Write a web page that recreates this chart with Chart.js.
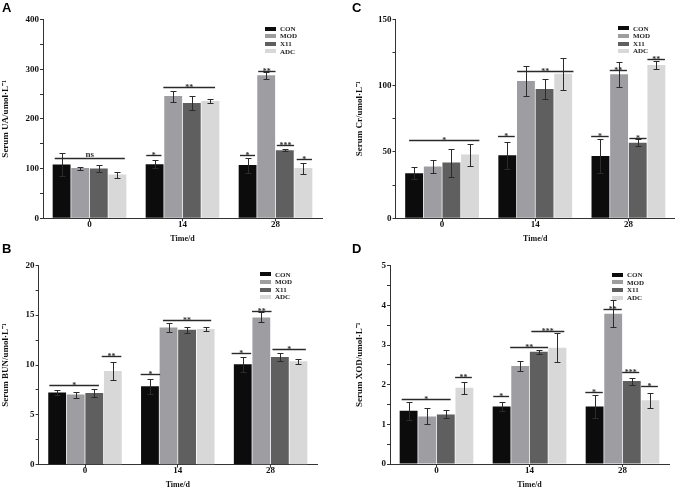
<!DOCTYPE html>
<html>
<head>
<meta charset="utf-8">
<script src="https://cdn.jsdelivr.net/npm/chart.js@4.4.1/dist/chart.umd.min.js"></script>
<style>
  html, body { margin: 0; padding: 0; background: #fff; }
  #wrap { position: relative; width: 675px; height: 488px; overflow: hidden; }
  .panel { position: absolute; }
  .tag { position: absolute; font: bold 13px "Liberation Sans", Arial, sans-serif; line-height: 13px; color: #000; }
</style>
</head>
<body>
<div id="wrap">
  <div class="panel" style="left:0;top:0;width:335px;height:244px"><canvas id="chA"></canvas></div>
  <div class="panel" style="left:335px;top:0;width:340px;height:244px"><canvas id="chC"></canvas></div>
  <div class="panel" style="left:0;top:244px;width:335px;height:246px"><canvas id="chB"></canvas></div>
  <div class="panel" style="left:335px;top:244px;width:340px;height:246px"><canvas id="chD"></canvas></div>
  <div class="tag" style="left:2px;top:1px">A</div>
  <div class="tag" style="left:352px;top:1px">C</div>
  <div class="tag" style="left:2px;top:242px">B</div>
  <div class="tag" style="left:352px;top:242px">D</div>
</div>
<script>
// groups / time points
const DAYS = ["0", "14", "28"];
const GROUPS = ["CON", "MOD", "X11", "ADC"];
const GROUP_COLORS = ["#0c0c0c", "#9e9ea2", "#5f5f5f", "#d8d8d8"];

// A - serum UA (rows = CON, MOD, X11, ADC)
const UA_MEAN = [[108, 109, 107], [101, 246, 288], [100, 232, 137], [88, 236, 101]];
const UA_SD   = [[23, 8, 15], [3, 11, 7], [7, 15, 1.5], [6, 5, 11]];
// [day index, from bar, to bar, y value, label]
const UA_SIG = [
  [0, 0.13, 3.9, 121, "ns"],
  [1, 0.05, 0.87, 128, "*"], [1, 0.97, 3.75, 264, "**"],
  [2, 0.09, 0.9, 128, "*"], [2, 1.07, 2.0, 297, "**"], [2, 2.07, 3.0, 148, "***"], [2, 3.14, 3.96, 120, "*"]
];

// C - serum Cr
const CR_MEAN = [[34, 47.5, 47], [39, 103.5, 108.5], [42, 97.5, 57], [48, 109, 115.5]];
const CR_SD   = [[4.5, 10, 12.8], [4.7, 11.5, 9.3], [10.5, 7.7, 2.5], [8.3, 12, 3]];
const CR_SIG = [
  [0, 0.23, 4.0, 59, "*"],
  [1, 0.0, 0.9, 62, "*"], [1, 1.03, 4.05, 111, "**"],
  [2, 0.0, 0.94, 62, "*"], [2, 1.0, 1.92, 112, "**"], [2, 2.05, 2.97, 60.7, "*"], [2, 3.02, 3.96, 119.8, "**"]
];

// B - serum BUN
const BUN_MEAN = [[7.23, 7.87, 10.07], [7.03, 13.77, 14.77], [7.2, 13.53, 10.8], [9.4, 13.6, 10.37]];
const BUN_SD   = [[0.23, 0.77, 0.77], [0.3, 0.47, 0.5], [0.4, 0.33, 0.37], [0.93, 0.2, 0.23]];
const BUN_SIG = [
  [0, 0.08, 2.75, 7.97, "*"], [0, 2.9, 3.96, 10.87, "**"],
  [1, 0.0, 1.05, 9.13, "*"], [1, 1.2, 3.8, 14.47, "**"],
  [2, -0.1, 0.95, 11.17, "*"], [2, 1.0, 2.05, 15.43, "**"], [2, 2.1, 3.9, 11.6, "*"]
];

// D - serum XOD
const XOD_MEAN = [[1.34, 1.45, 1.45], [1.2, 2.47, 3.79], [1.25, 2.83, 2.09], [1.92, 2.93, 1.61]];
const XOD_SD   = [[0.22, 0.11, 0.29], [0.2, 0.12, 0.34], [0.1, 0.05, 0.09], [0.16, 0.37, 0.19]];
const XOD_SIG = [
  [0, 0.13, 2.76, 1.65, "*"], [0, 3.0, 3.9, 2.19, "**"],
  [1, 0.05, 0.9, 1.71, "*"], [1, 0.96, 3.0, 2.95, "**"], [1, 2.1, 3.87, 3.35, "***"],
  [2, 0.0, 0.94, 1.82, "*"], [2, 0.98, 1.96, 3.9, "**"], [2, 1.98, 2.9, 2.32, "***"], [2, 3.0, 3.9, 1.97, "*"]
];

const SERIF = "'Liberation Serif', 'Times New Roman', serif";

// mean ± SD whiskers
const errorBars = {
  id: "errorBars",
  afterDatasetsDraw(chart) {
    const { ctx } = chart;
    const y = chart.scales.y;
    ctx.save();
    ctx.strokeStyle = "#2b2b2b";
    ctx.lineWidth = 1;
    chart.data.datasets.forEach((ds, i) => {
      chart.getDatasetMeta(i).data.forEach((bar, j) => {
        const v = ds.data[j], e = ds.sd[j];
        const top = Math.round(y.getPixelForValue(v + e)) + 0.5;
        const bot = Math.round(y.getPixelForValue(v - e)) + 0.5;
        const x = Math.round(bar.x) + 0.5;
        ctx.beginPath();
        ctx.moveTo(x, top); ctx.lineTo(x, bot);
        ctx.moveTo(x - 3, top); ctx.lineTo(x + 3, top);
        ctx.moveTo(x - 3, bot); ctx.lineTo(x + 3, bot);
        ctx.stroke();
      });
    });
    ctx.restore();
  }
};

// significance bars with stars
const sigMarks = {
  id: "sigMarks",
  afterDatasetsDraw(chart, _args, opts) {
    const { ctx } = chart;
    const y = chart.scales.y;
    const m0 = chart.getDatasetMeta(0), m1 = chart.getDatasetMeta(1);
    ctx.save();
    ctx.strokeStyle = "#2a2a2a";
    ctx.lineWidth = 1.4;
    ctx.fillStyle = "#333";
    ctx.textAlign = "center";
    ctx.textBaseline = "alphabetic";
    for (const [g, a, b, val, txt] of (opts.items || [])) {
      const pitch = m1.data[g].x - m0.data[g].x;
      const left = m0.data[g].x - pitch / 2;
      const x0 = left + a * pitch, x1 = left + b * pitch;
      const py = Math.round(y.getPixelForValue(val)) + 0.5;
      ctx.beginPath();
      ctx.moveTo(x0, py); ctx.lineTo(x1, py);
      ctx.stroke();
      if (txt === "ns") {
        ctx.font = `bold 9px ${SERIF}`;
        ctx.fillText(txt, (x0 + x1) / 2, py - 2);
      } else {
        ctx.font = `bold 8px ${SERIF}`;
        ctx.fillText(txt, (x0 + x1) / 2, py + 2.5);
      }
    }
    ctx.restore();
  }
};

// small legend inside the plot, top right
const innerLegend = {
  id: "innerLegend",
  afterDraw(chart, _args, opts) {
    const { ctx, chartArea } = chart;
    const x = chartArea.right - opts.right;
    const y0 = chartArea.top + opts.top;
    ctx.save();
    ctx.font = `bold 7px ${SERIF}`;
    ctx.textBaseline = "middle";
    ctx.textAlign = "left";
    chart.data.datasets.forEach((ds, i) => {
      const yy = y0 + i * 7.6;
      ctx.fillStyle = ds.backgroundColor;
      ctx.fillRect(x, Math.round(yy) - 2, 11, 4);
      ctx.fillStyle = "#222";
      ctx.fillText(ds.label, x + 15, yy + 0.5);
    });
    ctx.restore();
  }
};

const PANELS = [
  { id: "chA", mean: UA_MEAN, sd: UA_SD, sig: UA_SIG, max: 400, step: 100, title: "Serum UA/umol·L⁻¹",
    axisLeft: 43, axisBottom: 25.7, padTop: 19.5, padRight: 13, titlePad: 0.6 },
  { id: "chC", mean: CR_MEAN, sd: CR_SD, sig: CR_SIG, max: 150, step: 50, title: "Serum Cr/umol·L⁻¹",
    axisLeft: 60.5, axisBottom: 25.7, padTop: 19.3, padRight: 0, titlePad: 19.6 },
  { id: "chB", mean: BUN_MEAN, sd: BUN_SD, sig: BUN_SIG, max: 20, step: 5, title: "Serum BUN/umol·L⁻¹",
    axisLeft: 38.6, axisBottom: 25.3, padTop: 21.3, padRight: 18, titlePad: 0 },
  { id: "chD", mean: XOD_MEAN, sd: XOD_SD, sig: XOD_SIG, max: 5, step: 1, title: "Serum XOD/umol·L⁻¹",
    axisLeft: 55, axisBottom: 26, padTop: 21.7, padRight: 6, titlePad: 19.6 },
];

function isMajor(v, step){
  const r = v / step;
  return Math.abs(r - Math.round(r)) < 1e-6;
}

function buildPanel(p){
  const el = document.getElementById(p.id);
  return new Chart(el, {
    type: "bar",
    data: {
      labels: DAYS,
      datasets: GROUPS.map((g, i) => ({
        label: g,
        data: p.mean[i],
        sd: p.sd[i],
        backgroundColor: GROUP_COLORS[i],
        borderWidth: 0,
        barPercentage: 0.96,
        categoryPercentage: 0.8,
      }))
    },
    options: {
      responsive: true,
      maintainAspectRatio: false,
      animation: false,
      devicePixelRatio: 1,
      layout: { padding: { top: p.padTop, right: p.padRight, left: 0, bottom: 0 } },
      plugins: {
        legend: { display: false },
        tooltip: { enabled: false },
        sigMarks: { items: p.sig },
        innerLegend: { right: 57, top: 9 },
      },
      scales: {
        x: {
          ticks: { font: { family: SERIF, size: 9, weight: "bold" }, color: "#111", padding: -2 },
          grid: { drawOnChartArea: false, offset: false, tickLength: 3, tickColor: "#333" },
          border: { color: "#333" },
          title: { display: true, text: "Time/d", color: "#111",
                   font: { family: SERIF, size: 8, weight: "bold" }, padding: { top: 0, bottom: 0 } },
          afterFit: (s) => { s.height = p.axisBottom; },
        },
        y: {
          min: 0,
          max: p.max,
          ticks: {
            stepSize: p.step / 2,
            autoSkip: false,
            padding: 1,
            color: "#111",
            font: { family: SERIF, size: 9, weight: "bold" },
            callback: (v) => isMajor(v, p.step) ? String(v) : "",
          },
          grid: { drawOnChartArea: false, tickLength: 3, tickColor: "#333" },
          border: { color: "#333" },
          title: { display: true, text: p.title, color: "#111",
                   font: { family: SERIF, size: 9, weight: "bold" }, padding: { top: p.titlePad, bottom: 0 } },
          afterFit: (s) => { s.width = p.axisLeft; },
        }
      }
    },
    plugins: [errorBars, sigMarks, innerLegend]
  });
}

PANELS.forEach(buildPanel);
</script>
</body>
</html>
